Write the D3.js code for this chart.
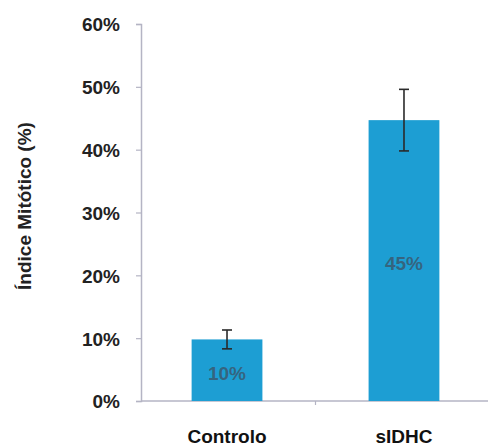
<!DOCTYPE html>
<html>
<head>
<meta charset="utf-8">
<script src="https://cdn.jsdelivr.net/npm/d3@7"></script>
<style>
body{margin:0;background:#fff;}
text{font-family:Arial,"Liberation Sans",sans-serif;font-weight:bold;}
</style>
</head>
<body>
<div id="chart"></div>
<script>
// data
var categories = ['Controlo', 'sIDHC'];
var values = [0.098, 0.447];
var errors = [0.015, 0.049];
var valueLabels = ['10%', '45%'];
var yTicks = [0, 0.1, 0.2, 0.3, 0.4, 0.5, 0.6];

var w = 488, h = 448;
var svg = d3.select('#chart').append('svg')
	.attr('width', w)
	.attr('height', h)

var x = d3.scaleBand()
	.domain(categories)
	.range([141, 490])
	.paddingInner(0.6)
	.paddingOuter(0.286)

var y = d3.scaleLinear()
	.domain([0, 0.6])
	.range([401, 24])

var axisColor = '#b4b4c4';

//y axis
var yAxis = svg.append('g')
	.attr('transform', 'translate(141,0)')
	.call(d3.axisLeft(y).tickValues(yTicks).tickFormat(d3.format('.0%')).tickSize(5).tickPadding(16))
yAxis.select('.domain').attr('stroke', axisColor).attr('stroke-width', 1.5)
yAxis.selectAll('.tick line').attr('stroke', axisColor).attr('stroke-width', 1.2)
yAxis.selectAll('.tick text')
	.style('font-size', '19px')
	.attr('fill', '#222')
	.attr('dy', '0.36em')

//x axis line + middle tick between groups
svg.append('line')
	.attr('x1', 141).attr('x2', w)
	.attr('y1', y(0)).attr('y2', y(0))
	.attr('stroke', axisColor)
	.attr('stroke-width', 1.5)
var midX = x(categories[1]) - x.step()*x.paddingInner()/2;
svg.append('line')
	.attr('x1', midX).attr('x2', midX)
	.attr('y1', y(0)).attr('y2', y(0) + 4)
	.attr('stroke', axisColor)
	.attr('stroke-width', 1.2)

svg.selectAll('.cat').data(categories).enter()
	.append('text')
	.attr('class', 'cat')
	.attr('x', function(d){return x(d) + x.bandwidth()/2})
	.attr('y', 443)
	.attr('text-anchor', 'middle')
	.style('font-size', '19px')
	.attr('fill', '#111')
	.text(function(d){return d})

//bars
svg.selectAll('.bar').data(values).enter()
	.append('rect')
	.attr('class', 'bar')
	.attr('x', function(d, i){return x(categories[i])})
	.attr('y', function(d){return y(d)})
	.attr('width', x.bandwidth())
	.attr('height', function(d){return y(0) - y(d)})
	.attr('fill', '#1d9ed3')

//value labels centred in the bars
svg.selectAll('.vlab').data(valueLabels).enter()
	.append('text')
	.attr('class', 'vlab')
	.attr('x', function(d, i){return x(categories[i]) + x.bandwidth()/2})
	.attr('y', function(d, i){return (y(0) + y(values[i]))/2 + 3})
	.attr('dy', '0.36em')
	.attr('text-anchor', 'middle')
	.style('font-size', '19px')
	.attr('fill', '#3a5a70')
	.attr('fill-opacity', 0.85)
	.text(function(d){return d})

//error bars
var errG = svg.selectAll('.err').data(values).enter()
	.append('g')
	.attr('class', 'err')
	.attr('transform', function(d, i){return 'translate(' + (x(categories[i]) + x.bandwidth()/2) + ',0)'})
errG.append('line')
	.attr('x1', 0).attr('x2', 0)
	.attr('y1', function(d, i){return y(d + errors[i])})
	.attr('y2', function(d, i){return y(d - errors[i])})
	.attr('stroke', '#2a2a2a').attr('stroke-width', 1.6)
errG.append('line')
	.attr('x1', -5).attr('x2', 5)
	.attr('y1', function(d, i){return y(d + errors[i])})
	.attr('y2', function(d, i){return y(d + errors[i])})
	.attr('stroke', '#2a2a2a').attr('stroke-width', 1.6)
errG.append('line')
	.attr('x1', -5).attr('x2', 5)
	.attr('y1', function(d, i){return y(d - errors[i])})
	.attr('y2', function(d, i){return y(d - errors[i])})
	.attr('stroke', '#2a2a2a').attr('stroke-width', 1.6)

//y title
svg.append('text')
	.attr('transform', 'translate(31,206) rotate(-90)')
	.attr('text-anchor', 'middle')
	.style('font-size', '19px')
	.attr('fill', '#222')
	.text('Índice Mitótico (%)')
</script>
</body>
</html>
